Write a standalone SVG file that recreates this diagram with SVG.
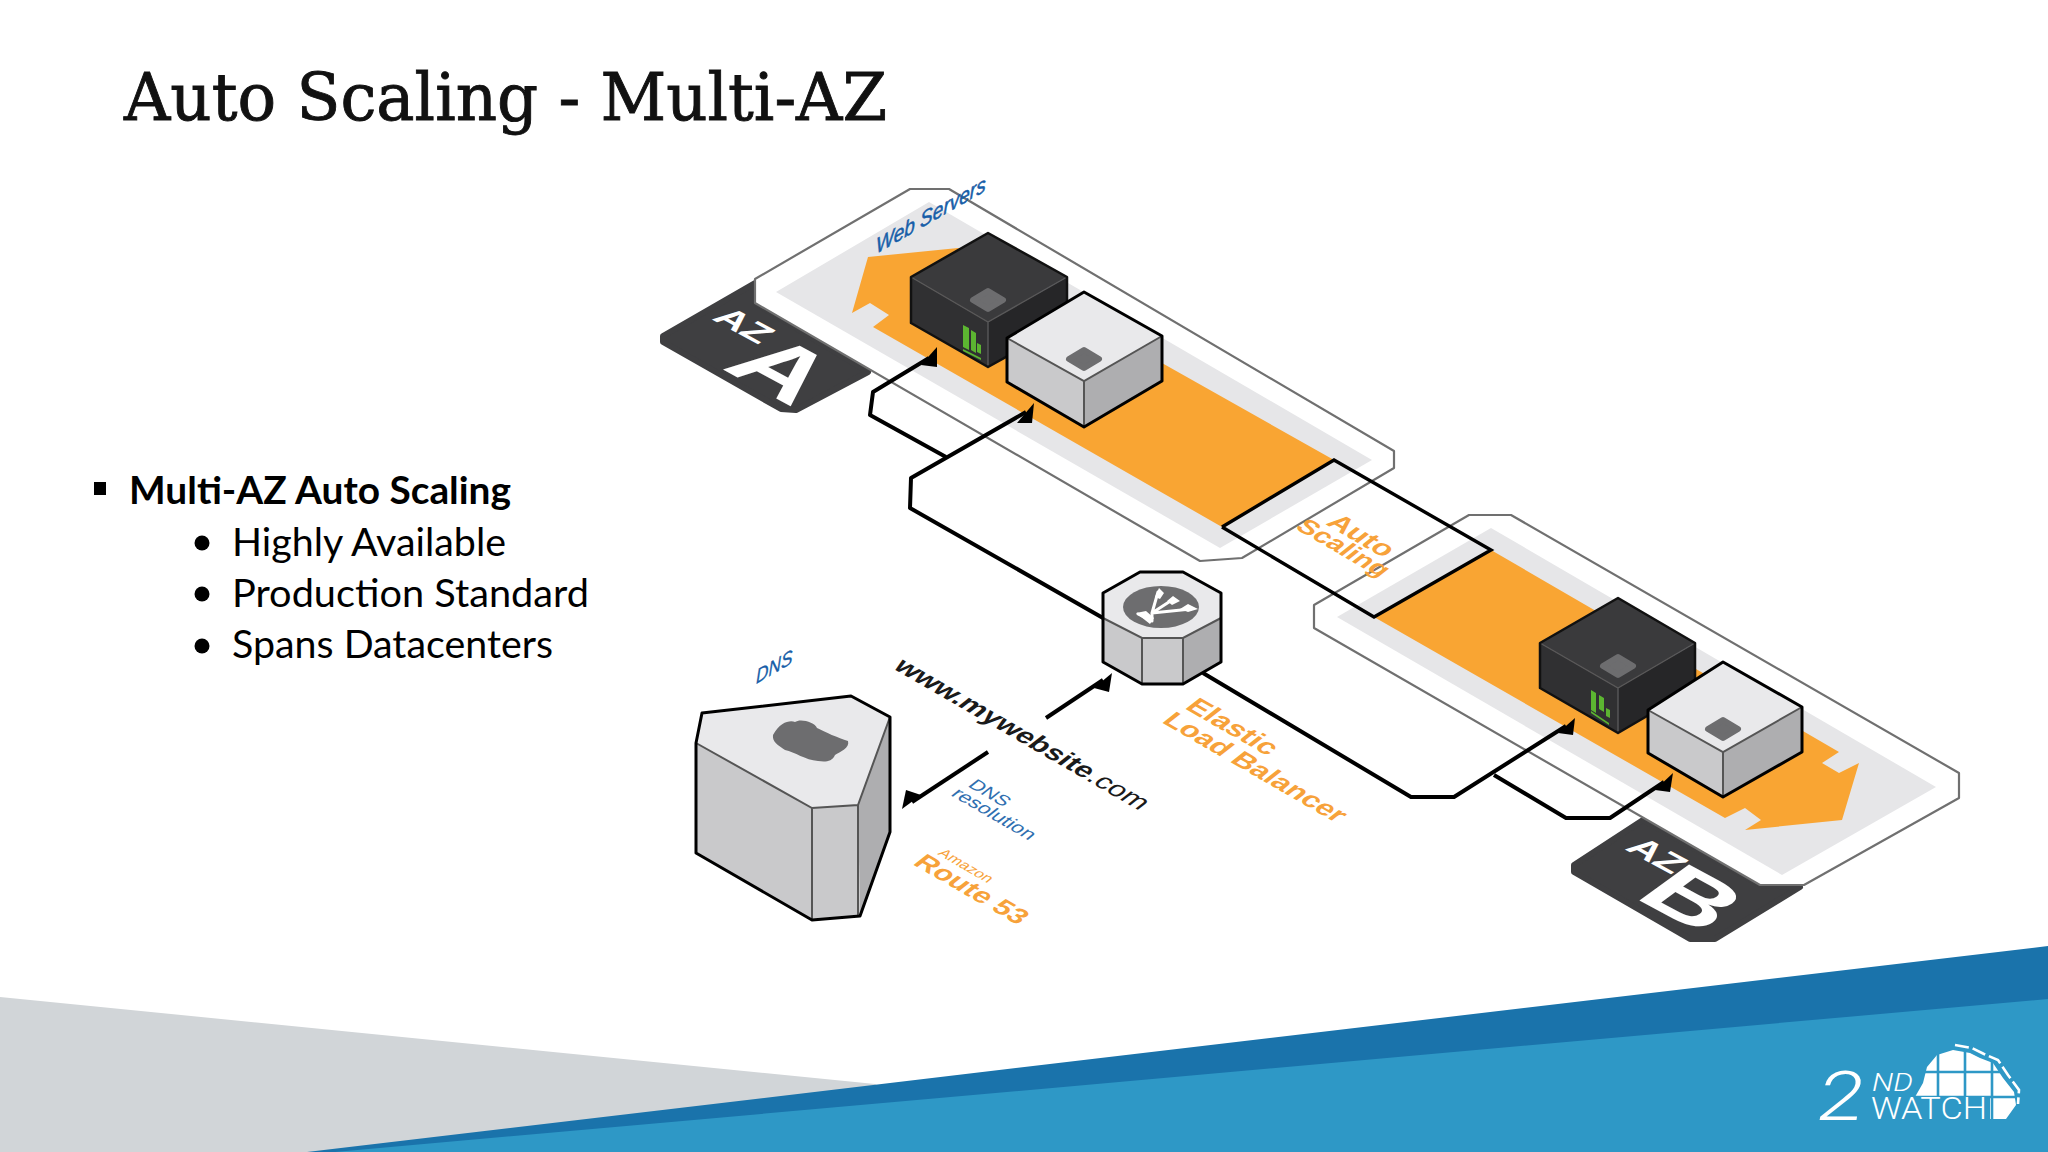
<svg xmlns="http://www.w3.org/2000/svg" width="2048" height="1152" viewBox="0 0 2048 1152">
<style>
.frame{fill:#fff;stroke:#707070;stroke-width:2.2;stroke-linejoin:round}
.band{fill:#e6e6e8}
.orange{fill:#f9a533}
.cross{stroke:#000;stroke-width:3.4;fill:none}
.conn{fill:none;stroke:#000;stroke-width:4;stroke-linejoin:round}
.head{fill:#000}
.az{fill:#3f3f41;stroke:#3f3f41;stroke-width:6;stroke-linejoin:round}
.azt{font-family:"Liberation Sans",Arial,sans-serif;font-weight:700;fill:#fff;text-anchor:middle}
.dt{fill:#3a3a3c}.dl{fill:#303032}.dr{fill:#262628}
.dedge{fill:none;stroke:#58585a;stroke-width:1.4}
.dout{fill:none;stroke:#111;stroke-width:2.5;stroke-linejoin:round}
.lt{fill:#e9e9eb}.ll{fill:#c9c9cb}.lr{fill:#aeaeb0}
.ledge{fill:none;stroke:#555;stroke-width:2}
.lout{fill:none;stroke:#000;stroke-width:3;stroke-linejoin:round}
.dia{fill:#6d6d6f;stroke:#6d6d6f;stroke-width:6;stroke-linejoin:round}
.green{fill:#5cb531}
.lbl{font-family:"Liberation Sans",Arial,sans-serif}
.or{fill:#f7a23a}
.bl{fill:#175ea8}
.body{font-family:Lato,"Open Sans",sans-serif;fill:#000}
.logo{font-family:Roboto,"Liberation Sans",sans-serif;fill:#fff}
</style>
<rect width="2048" height="1152" fill="#fff"/>
<g id="background">
<polygon points="0,997 875,1084 1000,1152 0,1152" fill="#d1d5d8"/>
<polygon points="307,1152 2048,946 2048,1152" fill="#1a73ab"/>
<polygon points="335,1152 2048,999 2048,1152" fill="#2e98c6"/>
</g>
<text id="title" x="124" y="120" font-family="'DejaVu Serif','Liberation Serif',serif" font-size="66" fill="#111" stroke="#111" stroke-width=".9" textLength="763" lengthAdjust="spacingAndGlyphs">Auto Scaling - Multi-AZ</text>
<g id="bullets" class="body">
<rect x="94" y="482" width="12" height="13" fill="#000"/>
<text x="129" y="504" font-size="38" font-weight="700" textLength="382" lengthAdjust="spacingAndGlyphs">Multi-AZ Auto Scaling</text>
<circle cx="202" cy="543" r="7.5" fill="#000"/>
<text x="232" y="556" font-size="38" textLength="274" lengthAdjust="spacingAndGlyphs">Highly Available</text>
<circle cx="202" cy="594" r="7.5" fill="#000"/>
<text x="232" y="607" font-size="38" textLength="357" lengthAdjust="spacingAndGlyphs">Production Standard</text>
<circle cx="202" cy="646" r="7.5" fill="#000"/>
<text x="232" y="658" font-size="38" textLength="321" lengthAdjust="spacingAndGlyphs">Spans Datacenters</text>
</g>
<g id="az-a">
<polygon class="az" points="755,283 663,336 663,342 781,409 796,410 868,372 755,303"/>
<polygon class="frame" points="910,189 949,189 1394,451 1394,468 1242,558 1200,561 755,303 755,279"/>
<polygon class="band" points="929,202 1372,460 1220,548 776,292"/>
<polygon class="orange" points="868,257 958,248 1334,460 1222,527 873,327 889,315 870,303 852,313"/>
<text class="azt" font-size="40" transform="matrix(.9,.486,-.667,.486,735,332)">AZ</text>
<text class="azt" font-size="112" transform="matrix(.9,.486,-.667,.486,757,388)">A</text>
<text class="lbl bl" font-size="22" font-style="italic" stroke="#175ea8" stroke-width=".5" transform="matrix(.866,-.5,0,1,876,254)">Web Servers</text>
</g>
<g id="az-b">
<polygon class="az" points="1643,820 1574,865 1574,872 1690,939 1715,939 1800,887 1760,885"/>
<polygon class="frame" points="1469,515 1511,515 1959,773 1959,798 1804,885 1760,885 1314,628 1314,605"/>
<polygon class="band" points="1491,528 1936,787 1782,875 1337,617"/>
<polygon class="orange" points="1491,550 1374,617 1725,818 1745,808 1761,820 1745,830 1842,820 1859,763 1839,773 1822,763 1839,752"/>
<text class="azt" font-size="40" transform="matrix(.9,.486,-.667,.486,1648,862)">AZ</text>
<text class="azt" font-size="108" transform="matrix(.9,.486,-.667,.486,1668,916)">B</text>
</g>
<g id="auto-scaling">
<text class="lbl or" font-size="30" font-weight="700" transform="matrix(.866,.5,-.7,.55,1325,524)">Auto</text>
<text class="lbl or" font-size="28" font-weight="700" transform="matrix(.866,.5,-.7,.55,1294,528)">Scaling</text>
</g>
<g id="connectors">
<path class="cross" d="M1222,527L1334,460L1491,550L1374,617L1222,527"/>
<path class="conn" d="M946,457L870,415L873,392L929,358"/>
<path class="conn" d="M1103,618L910,508L911,478L1026,412"/>
<path class="conn" d="M1203,673L1411,797L1454,797L1566,726"/>
<path class="conn" d="M1494,775L1566,818L1610,818L1664,782"/>
<path class="conn" d="M1046,718L1103,680"/>
<path class="conn" d="M988,752L912,802"/>
<polygon class="head" points="937,347 937,367 921,365"/>
<polygon class="head" points="1034,403 1032,423 1017,423"/>
<polygon class="head" points="1575,718 1573,735 1558,733"/>
<polygon class="head" points="1673,773 1670,792 1655,790"/>
<polygon class="head" points="1112,673 1109,692 1094,688"/>
<polygon class="head" points="902,809 906,790 921,795"/>
</g>
<g id="server-a1">
<polygon class="dt" points="988,233 1067,277 988,322 911,277"/>
<polygon class="dl" points="911,277 988,322 988,367 911,323"/>
<polygon class="dr" points="988,322 1067,277 1067,323 988,367"/>
<path class="dedge" d="M911,277L988,322L1067,277M988,322V367"/>
<polygon class="dout" points="988,233 1067,277 1067,323 988,367 911,323 911,277"/>
<polygon class="dia" points="988,291 1003,300 988,309 973,300"/>
<path class="green" d="M963,325l6,3v22l-6,-3zM971,330l5,3v20l-5,-3zM977,343l4,2v9l-4,-2zM963,349l18,9v2l-18,-9z"/>
</g>
<g id="server-a2">
<polygon class="lt" points="1084,292 1162,336 1084,381 1007,338"/>
<polygon class="ll" points="1007,338 1084,381 1084,427 1007,382"/>
<polygon class="lr" points="1084,381 1162,336 1162,381 1084,427"/>
<path class="ledge" d="M1007,338L1084,381L1162,336M1084,381V427"/>
<polygon class="lout" points="1084,292 1162,336 1162,381 1084,427 1007,382 1007,338"/>
<polygon class="dia" points="1084,350 1099,359 1084,368 1069,359"/>
</g>
<g id="server-b1">
<polygon class="dt" points="1618,598 1695,643 1618,688 1540,643"/>
<polygon class="dl" points="1540,643 1618,688 1618,733 1540,688"/>
<polygon class="dr" points="1618,688 1695,643 1695,688 1618,733"/>
<path class="dedge" d="M1540,643L1618,688L1695,643M1618,688V733"/>
<polygon class="dout" points="1618,598 1695,643 1695,688 1618,733 1540,688 1540,643"/>
<polygon class="dia" points="1618,657 1633,666 1618,675 1603,666"/>
<path class="green" d="M1591,690l5,3v20l-5,-3zM1599,695l5,3v14l-5,-3zM1606,708l4,2v8l-4,-2zM1591,711l18,12v2l-18,-12z"/>
</g>
<g id="server-b2">
<polygon class="lt" points="1723,662 1802,707 1723,752 1648,710"/>
<polygon class="ll" points="1648,710 1723,752 1723,797 1648,753"/>
<polygon class="lr" points="1723,752 1802,707 1802,752 1723,797"/>
<path class="ledge" d="M1648,710L1723,752L1802,707M1723,752V797"/>
<polygon class="lout" points="1723,662 1802,707 1802,752 1723,797 1648,753 1648,710"/>
<polygon class="dia" points="1723,720 1738,729 1723,738 1708,729"/>
</g>
<g id="elb">
<polygon class="lt" points="1140,572 1183,572 1221,593 1221,618 1183,638 1142,638 1103,618 1103,593"/>
<polygon class="ll" points="1103,618 1142,638 1142,684 1103,662"/>
<polygon class="ll" points="1142,638 1183,638 1183,684 1142,684"/>
<polygon class="lr" points="1183,638 1221,618 1221,662 1183,684"/>
<path class="ledge" d="M1103,618L1142,638H1183L1221,618M1142,638V684M1183,638V684"/>
<polygon class="lout" points="1140,572 1183,572 1221,593 1221,662 1183,684 1142,684 1103,662 1103,593"/>
<ellipse cx="1161" cy="607" rx="38" ry="21" fill="#6d6d6f"/>
<path d="M1152,613L1158,592M1152,613L1172,600M1152,613L1191,609M1138,614L1152,621M1152,613V621" stroke="#fff" stroke-width="3" fill="none" stroke-linecap="round"/>
<path d="M1155,597L1159,588L1164,593L1160,599ZM1167,601L1173,596L1180,601L1172,605ZM1180,609L1188,604L1198,609L1188,612ZM1136,613L1146,611L1154,618L1150,624Z" fill="#fff"/>
<text class="lbl or" font-size="30" font-weight="700" transform="matrix(.866,.5,-.7,.55,1184,708)">Elastic</text>
<text class="lbl or" font-size="29.4" font-weight="700" transform="matrix(.866,.5,-.7,.55,1161,722)">Load Balancer</text>
</g>
<g id="dns">
<polygon class="lt" points="702,713 851,696 890,717 858,805 812,808 696,743"/>
<polygon class="ll" points="696,743 812,808 812,920 696,853"/>
<polygon class="ll" points="812,808 858,805 860,916 812,920"/>
<polygon class="lr" points="858,805 890,717 890,832 860,916"/>
<path class="ledge" d="M696,743L812,808L858,805L890,717M812,808V920M858,805V916"/>
<polygon class="lout" points="702,713 851,696 890,717 890,832 860,916 812,920 696,853 696,743"/>
<path d="M773,735C780,722 790,720 795,722C800,718 815,722 817,728C825,732 838,738 848,741C850,748 840,752 835,755C832,762 825,762 818,761C805,760 795,752 785,750C778,745 772,742 773,735Z" fill="#6d6d6f"/>
<text class="lbl bl" font-size="20" font-style="italic" stroke="#175ea8" stroke-width=".3" transform="matrix(.866,-.5,0,1,756,684)">DNS</text>
<text class="lbl or" font-size="16" transform="matrix(.866,.5,-.7,.55,937,854)">Amazon</text>
<text class="lbl or" font-size="29" font-weight="700" transform="matrix(.866,.5,-.7,.55,912,864)">Route 53</text>
</g>
<g id="url-label">
<text class="lbl" font-size="29" fill="#1a1a1a" transform="matrix(.866,.5,-.7,.55,892,668)"><tspan font-weight="700">www.mywebsite</tspan><tspan>.com</tspan></text>
<text class="lbl" font-size="20" fill="#2f6fb0" transform="matrix(.866,.5,-.7,.55,967,786)">DNS</text>
<text class="lbl" font-size="21" fill="#2f6fb0" transform="matrix(.866,.5,-.7,.55,950,795)">resolution</text>
</g>
<g id="logo">
<path d="M1915,1097L1923,1083L1927,1067L1937,1055L1953,1050L1970,1053L1980,1058L1993,1063L2003,1078L2014,1092L2016,1105L2006,1119L1990,1119V1097Z" fill="#fff"/>
<path d="M1938,1050V1097M1965,1048V1097M1992,1060V1119M1920,1072H2010M1915,1097H2018" stroke="#2e98c6" stroke-width="2.6" fill="none"/>
<path d="M1955,1045L1972,1048L1984,1054L1998,1060L2008,1075L2019,1090L2018,1104" stroke="#fff" stroke-width="2.6" stroke-dasharray="14 4" fill="none"/>
<text class="logo" font-size="68" font-weight="300" font-style="italic" transform="matrix(1.25,0,0,1,1818,1120)">2</text>
<text class="logo" x="1872" y="1091" font-size="25" font-weight="300" font-style="italic" textLength="41" lengthAdjust="spacingAndGlyphs">ND</text>
<text class="logo" x="1871" y="1119" font-size="31" font-weight="300" textLength="116" lengthAdjust="spacingAndGlyphs">WATCH</text>
</g>
</svg>
